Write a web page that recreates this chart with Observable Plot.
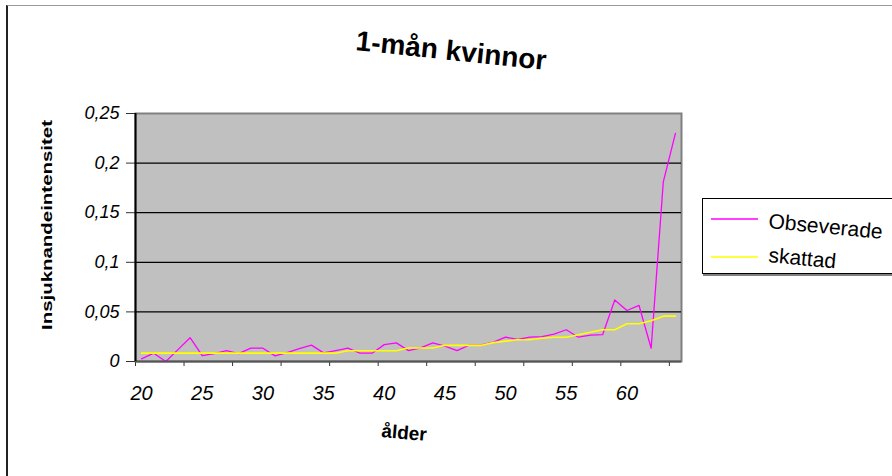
<!DOCTYPE html>
<html>
<head>
<meta charset="utf-8">
<script src="https://cdn.jsdelivr.net/npm/d3@7"></script>
<script src="https://cdn.jsdelivr.net/npm/@observablehq/plot@0.6"></script>
<style>
  body { margin: 0; background: #fff; }
  #wrap { position: relative; width: 892px; height: 476px; overflow: hidden;
          font-family: "Liberation Sans", Arial, sans-serif; }
  #chart { position: absolute; left: 0; top: 0; }
  #frame { position: absolute; left: 6px; top: 5px; width: 1000px; height: 1000px;
           border-left: 2px solid #222; border-top: 1px solid #999; pointer-events: none; }
  #overlay { position: absolute; left: 0; top: 0; }
  g[aria-label="y-axis tick label"] text,
  g[aria-label="x-axis tick label"] text { font-style: italic; }
</style>
</head>
<body>
<div id="wrap">
  <div id="chart"></div>
  <div id="frame"></div>
  <svg id="overlay" width="892" height="476"></svg>
</div>
<script>
const titleText = "1-mån kvinnor";
const xAxisTitle = "ålder";
const yAxisTitle = "Insjuknandeintensitet";
const seriesNames = ["Obseverade", "skattad"];
const seriesColors = ["#ff00ff", "#ffff00"];

const ages = [20,21,22,23,24,25,26,27,28,29,30,31,32,33,34,35,36,37,38,39,40,41,42,43,44,45,46,47,48,49,50,51,52,53,54,55,56,57,58,59,60,61,62,63,64];
const observed = [0.0027,0.0084,0.0,0.012,0.024,0.006,0.008,0.011,0.008,0.0134,0.0134,0.0057,0.009,0.013,0.0165,0.0087,0.011,0.0134,0.0084,0.0084,0.017,0.0188,0.011,0.0138,0.0188,0.0155,0.011,0.0165,0.0168,0.0195,0.0245,0.0222,0.0245,0.025,0.0275,0.032,0.0245,0.0265,0.027,0.062,0.0514,0.0565,0.0134,0.181,0.23];
const estimated = [0.0084,0.0084,0.0084,0.0084,0.0084,0.0084,0.0084,0.0084,0.0084,0.0084,0.0084,0.0084,0.0084,0.0084,0.0084,0.0084,0.0084,0.0108,0.0108,0.0108,0.0108,0.0108,0.0136,0.0136,0.0136,0.0163,0.0163,0.0163,0.0163,0.019,0.0205,0.022,0.022,0.0235,0.0245,0.0245,0.027,0.0295,0.032,0.032,0.038,0.038,0.041,0.0457,0.0457];

const yTicks = [0, 0.05, 0.1, 0.15, 0.2, 0.25];
const yTickLabels = ["0", "0,05", "0,1", "0,15", "0,2", "0,25"];
const xTickLabels = ["20", "25", "30", "35", "40", "45", "50", "55", "60"];

const data = ages.map((a, i) => ({age: a, obs: observed[i], est: estimated[i]}));
const xDomain = [ages[0] - 0.5, ages[ages.length - 1] + 0.5];
// tick marks sit between categories, every 4th category
const tickPos = ages.filter((a, i) => i % 4 === 0).map(a => a - 0.5);
// labels sit on the category centres of the labelled ages
const labelPos = xTickLabels.map(Number);

const chart = Plot.plot({
  width: 892, height: 476,
  marginLeft: 135, marginRight: 211, marginTop: 113, marginBottom: 115,
  style: {fontFamily: '"Liberation Sans", Arial, sans-serif', background: "transparent", color: "#000"},
  x: {domain: xDomain},
  y: {domain: [0, 0.25]},
  marks: [
    Plot.frame({fill: "#c0c0c0", stroke: "#808080", strokeWidth: 2}),
    Plot.ruleY(yTicks.slice(1, -1), {stroke: "#000", strokeWidth: 1.3}),
    Plot.axisY({ticks: yTicks, tickFormat: d => yTickLabels[yTicks.indexOf(d)], tickSize: 9, tickPadding: 7, fontSize: 18, label: null, stroke: "#333"}),
    Plot.axisX({ticks: tickPos, tickSize: 5, tickFormat: () => "", label: null, stroke: "#333"}),
    Plot.axisX({ticks: labelPos, tickSize: 0, tickPadding: 24, tickFormat: d => xTickLabels[labelPos.indexOf(d)], fontSize: 20, label: null}),
    Plot.line(data, {x: "age", y: "obs", stroke: seriesColors[0], strokeWidth: 1.3}),
    Plot.line(data, {x: "age", y: "est", stroke: seriesColors[1], strokeWidth: 1.6}),
    Plot.ruleY([0], {stroke: "#555", strokeWidth: 2}),
    Plot.ruleX([xDomain[0]], {stroke: "#000", strokeWidth: 2})
  ]
});
document.getElementById("chart").appendChild(chart);

// titles and legend
const ov = d3.select("#overlay").style("font-family", '"Liberation Sans", Arial, sans-serif');
ov.append("text").attr("x", 355).attr("y", 50).attr("transform", "rotate(6 355 50)")
  .attr("font-weight", "bold").attr("font-size", 28).text(titleText);
ov.append("text").attr("transform", "translate(52,225) rotate(-90)").attr("text-anchor", "middle")
  .attr("font-weight", "bold").attr("font-size", 15)
  .attr("textLength", 210).attr("lengthAdjust", "spacingAndGlyphs").text(yAxisTitle);
ov.append("text").attr("x", 381).attr("y", 437).attr("transform", "rotate(5 381 437)")
  .attr("font-weight", "bold").attr("font-size", 19).text(xAxisTitle);

const lg = ov.append("g");
lg.append("rect").attr("x", 703).attr("y", 201).attr("width", 220).attr("height", 75).attr("fill", "#808080");
lg.append("rect").attr("x", 702.5).attr("y", 198.5).attr("width", 220).attr("height", 75)
  .attr("fill", "#fff").attr("stroke", "#000").attr("stroke-width", 1);
seriesNames.forEach((name, i) => {
  const ly = 219 + i * 38;
  lg.append("line").attr("x1", 711).attr("x2", 758).attr("y1", ly).attr("y2", ly)
    .attr("stroke", seriesColors[i]).attr("stroke-width", 1.5);
  const ty = 228 + i * 34;
  lg.append("text").attr("x", 768).attr("y", ty).attr("transform", `rotate(5.5 768 ${ty})`)
    .attr("font-size", 21).text(name);
});
</script>
</body>
</html>
